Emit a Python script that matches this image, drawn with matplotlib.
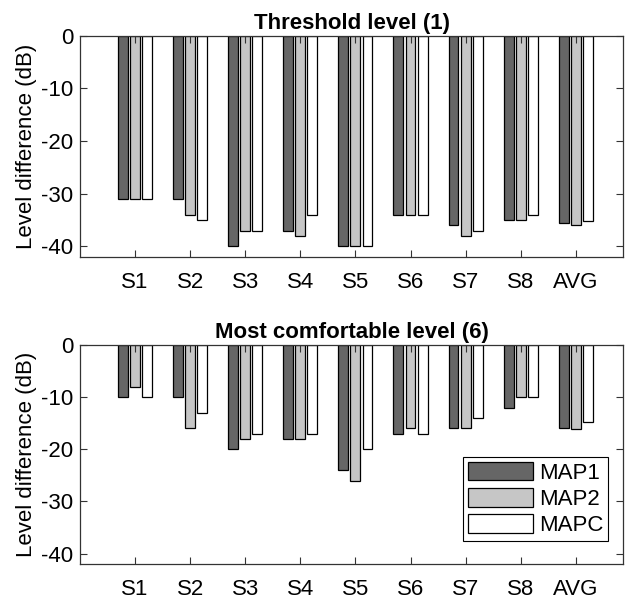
import matplotlib
matplotlib.use("Agg")
import matplotlib.pyplot as plt
import numpy as np

plt.rcParams['font.family'] = ['Liberation Sans', 'DejaVu Sans']
plt.rcParams['axes.unicode_minus'] = False

subjects = ["S1", "S2", "S3", "S4", "S5", "S6", "S7", "S8", "AVG"]
series_names = ["MAP1", "MAP2", "MAPC"]
colors = ["#666666", "#c6c6c6", "#ffffff"]

# threshold level (1)
thr_map1 = [-31, -31, -40, -37, -40, -34, -36, -35, -35.5]
thr_map2 = [-31, -34, -37, -38, -40, -34, -38, -35, -35.9]
thr_mapc = [-31, -35, -37, -34, -40, -34, -37, -34, -35.2]

# most comfortable level (6)
mcl_map1 = [-10, -10, -20, -18, -24, -17, -16, -12, -16.0]
mcl_map2 = [-8, -16, -18, -18, -26, -16, -16, -10, -16.1]
mcl_mapc = [-10, -13, -17, -17, -20, -17, -14, -10, -14.8]

panels = [
    ("Threshold level (1)", [thr_map1, thr_map2, thr_mapc]),
    ("Most comfortable level (6)", [mcl_map1, mcl_map2, mcl_mapc]),
]

fig = plt.figure(figsize=(6.25, 6.0), dpi=100)
ax_rects = [[0.128, 0.5717, 0.869, 0.369], [0.128, 0.0600, 0.869, 0.365]]

x = np.arange(1, len(subjects) + 1)
width = 0.18
offset = 0.22
fs = 16

for i, (title, data) in enumerate(panels):
    ax = fig.add_axes(ax_rects[i])
    for k, vals in enumerate(data):
        ax.bar(x + (k - 1) * offset, vals, width, color=colors[k],
               edgecolor="black", linewidth=0.9, label=series_names[k])
    ax.set_xlim(0, 9.86)
    ax.set_ylim(-42, 0)
    ax.set_yticks([0, -10, -20, -30, -40])
    ax.set_xticks(x)
    ax.set_xticklabels(subjects)
    ax.tick_params(direction="in", length=5, width=0.8, labelsize=fs,
                   top=True, right=True, color="#333333", pad=11)
    ax.tick_params(axis="y", pad=5)
    for s in ax.spines.values():
        s.set_color("#333333")
        s.set_linewidth(0.9)
    ax.set_ylabel("Level difference (dB)", fontsize=fs, labelpad=3)
    ax.set_title(title, fontsize=fs, fontweight="bold", pad=5)
    if i == 1:
        leg = ax.legend(loc="lower right", bbox_to_anchor=(0.972, 0.104),
                        borderaxespad=0, fontsize=fs, fancybox=False,
                        edgecolor="black", framealpha=1, handlelength=2.95,
                        handleheight=0.9, labelspacing=0.2,
                        handletextpad=0.25, borderpad=0.22)
        leg.get_frame().set_linewidth(0.8)

fig.savefig("out.png", dpi=100)
